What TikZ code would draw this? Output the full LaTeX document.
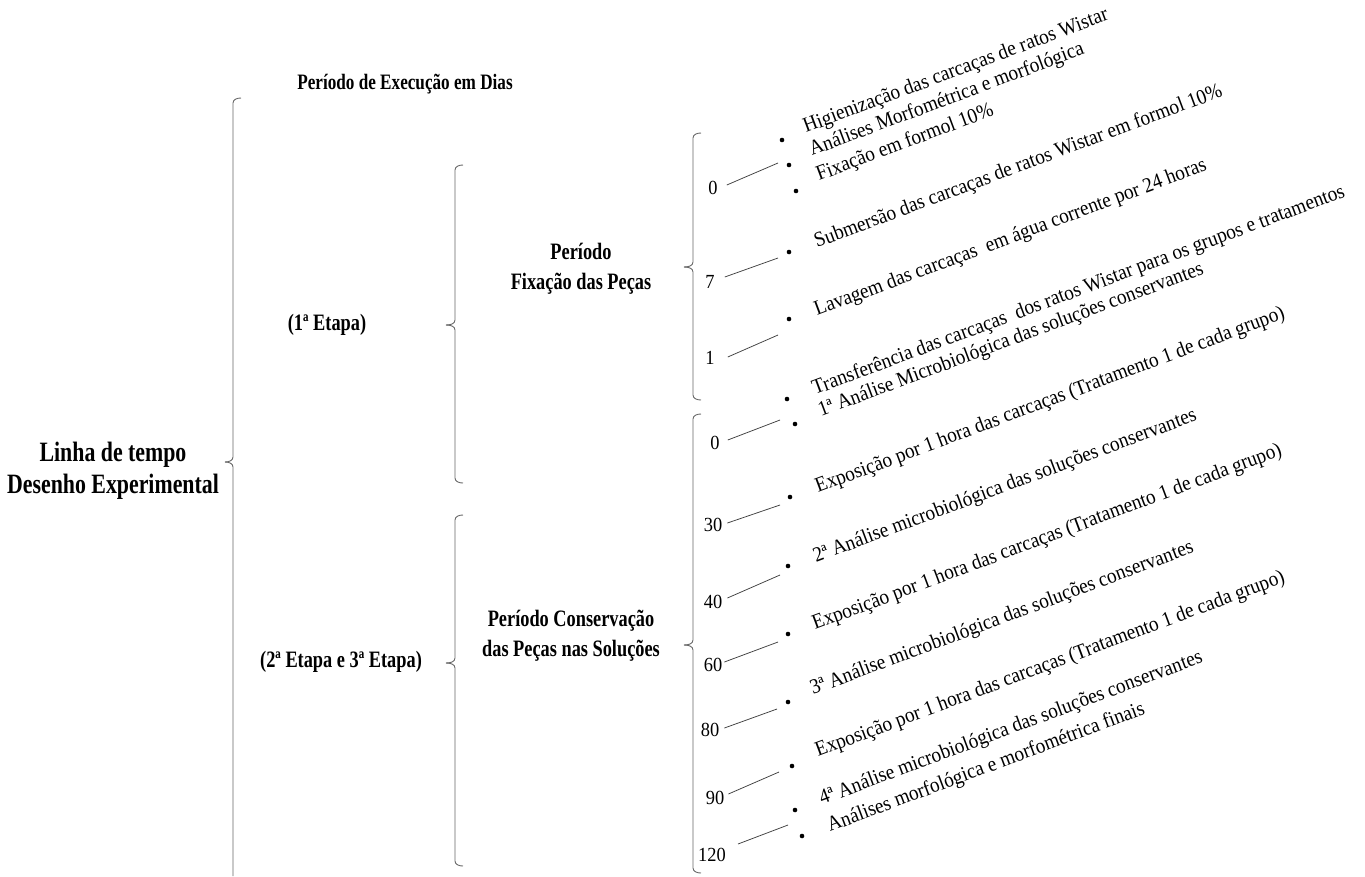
\documentclass[tikz,border=0pt]{standalone}
\usepackage{fontspec}
\setmainfont{Liberation Serif}
\newfontfamily\bcfont[FakeStretch=0.78]{Liberation Serif}
\newfontfamily\rcfont[FakeStretch=0.92]{Liberation Serif}
\usetikzlibrary{calc}
\newcommand\mybrace[4]{%
  \draw[brk] (#1+8,#2) to[out=180,in=90] (#1,#2+5) -- (#1,#3-5) to[out=-90,in=0] (#1-9,#3);
  \draw[brk] (#1-9,#3) to[out=0,in=90] (#1,#3+5) -- (#1,#4-5) to[out=-90,in=180] (#1+8,#4);}
\begin{document}
\begin{tikzpicture}[x=1pt,y=-1pt,
  brk/.style={draw=black!60, line width=0.9pt},
  big/.style={font=\bcfont\bfseries\fontsize{28}{32}\selectfont, align=center, inner sep=0},
  grp/.style={font=\bcfont\bfseries\fontsize{23.5}{30}\selectfont, align=center, inner sep=0},
  num/.style={font=\rcfont\fontsize{20}{24}\selectfont, inner sep=0},
  item/.style={font=\rcfont\fontsize{21}{24}\selectfont, inner sep=0, anchor=base west, rotate=20.5},
  dot/.style={circle, fill=black, inner sep=0, minimum size=4.6pt},
  conn/.style={draw=black!75, line width=0.75pt}]
\useasboundingbox[fill=white] (0,0) rectangle (1365,876);

% brackets
\draw[brk] (241,98) to[out=180,in=90] (233,103) -- (233,457) to[out=-90,in=0] (225,462);
\draw[brk] (225,462) to[out=0,in=90] (233,467) -- (233,876);
\mybrace{455}{165}{325}{483}
\mybrace{455}{515}{663}{866}
\mybrace{693}{133}{267}{400}
\mybrace{693}{414}{645}{873}

% labels
\node[big] (root) at (113,471) {Linha de tempo\\Desenho Experimental};
\node[grp] (et1) at (327,325) {(1ª Etapa)};
\node[grp] (et23) at (341,662) {(2ª Etapa e 3ª Etapa)};
\node[grp] (pfix) at (581,269) {Período\\Fixação das Peças};
\node[grp] (pcon) at (571,636) {Período Conservação\\das Peças nas Soluções};
\node[grp, font=\bcfont\bfseries\fontsize{22}{24}\selectfont] (title) at (405,84) {Período de Execução em Dias};

% numbers
\node[num] (n0a) at (713,188) {0};
\node[num] (n7) at (710,282) {7};
\node[num] (n1) at (710,358) {1};
\node[num] (n0b) at (715,443) {0};
\node[num] (n30) at (713,525) {30};
\node[num] (n40) at (713,602) {40};
\node[num] (n60) at (713,665) {60};
\node[num] (n80) at (710,730) {80};
\node[num] (n90) at (715,798) {90};
\node[num] (n120) at (712,855) {120};

% bullets
\node[dot] (b1) at (782,140) {};
\node[dot] (b2) at (789,165) {};
\node[dot] (b3) at (796,191) {};
\node[dot] (b4) at (789,252) {};
\node[dot] (b5) at (789,319) {};
\node[dot] (b6) at (787,399) {};
\node[dot] (b7) at (795,424) {};
\node[dot] (b8) at (790,497) {};
\node[dot] (b9) at (788,566) {};
\node[dot] (b10) at (788,634) {};
\node[dot] (b11) at (788,702) {};
\node[dot] (b12) at (792,766) {};
\node[dot] (b13) at (795,810) {};
\node[dot] (b14) at (802,836) {};

% connectors
\draw[conn] ($(n0a.east)+(9,-3)$) -- ($(b2)+(-11,-2)$);
\draw[conn] ($(n7.east)+(10,-5)$) -- ($(b4)+(-11,6)$);
\draw[conn] ($(n1.east)+(13,-1)$) -- ($(b5)+(-11,16)$);
\draw[conn] ($(n0b.east)+(8,-3)$) -- ($(b7)+(-15,-4)$);
\draw[conn] ($(n30.east)+(5,-2)$) -- ($(b8)+(-10,8)$);
\draw[conn] ($(n40.east)+(5,-4)$) -- ($(b9)+(-8,9)$);
\draw[conn] ($(n60.east)+(2,-3)$) -- ($(b10)+(-10,8)$);
\draw[conn] ($(n80.east)+(5,-2)$) -- ($(b11)+(-11,7)$);
\draw[conn] ($(n90.east)+(4,-4)$) -- ($(b12)+(-13,6)$);
\draw[conn] ($(n120.east)+(12,-11)$) -- ($(b14)+(-14,-11)$);

% items
\node[item] (t1) at ($(b1)+(24,-7)$) {Higienização das carcaças de ratos Wistar};
\node[item] (t2) at ($(b2)+(23,-9)$) {Análises Morfométrica e morfológica};
\node[item] (t3) at ($(b3)+(23,-10)$) {Fixação em formol 10\%};
\node[item] (t4) at ($(b4)+(28,-4)$) {Submersão das carcaças de ratos Wistar em formol 10\%};
\node[item] (t5) at ($(b5)+(28,-3)$) {Lavagem das carcaças \ em água corrente por 24 horas};
\node[item] (t6) at ($(b6)+(28,-4)$) {Transferência das carcaças \ dos ratos Wistar para os grupos e tratamentos};
\node[item] (t7) at ($(b7)+(26,-7)$) {1ª Análise Microbiológica das soluções conservantes};
\node[item] (t8) at ($(b8)+(28,-4)$) {Exposição por 1 hora das carcaças (Tratamento 1 de cada grupo)};
\node[item] (t9) at ($(b9)+(28,-3)$) {2ª Análise microbiológica das soluções conservantes};
\node[item] (t10) at ($(b10)+(27,-4)$) {Exposição por 1 hora das carcaças (Tratamento 1 de cada grupo)};
\node[item] (t11) at ($(b11)+(25,-7)$) {3ª Análise microbiológica das soluções conservantes};
\node[item] (t12) at ($(b12)+(26,-9)$) {Exposição por 1 hora das carcaças (Tratamento 1 de cada grupo)};
\node[item] (t13) at ($(b13)+(27,-5)$) {4ª Análise microbiológica das soluções conservantes};
\node[item] (t14) at ($(b14)+(28,-4)$) {Análises morfológica e morfométrica finais};
\end{tikzpicture}
\end{document}
